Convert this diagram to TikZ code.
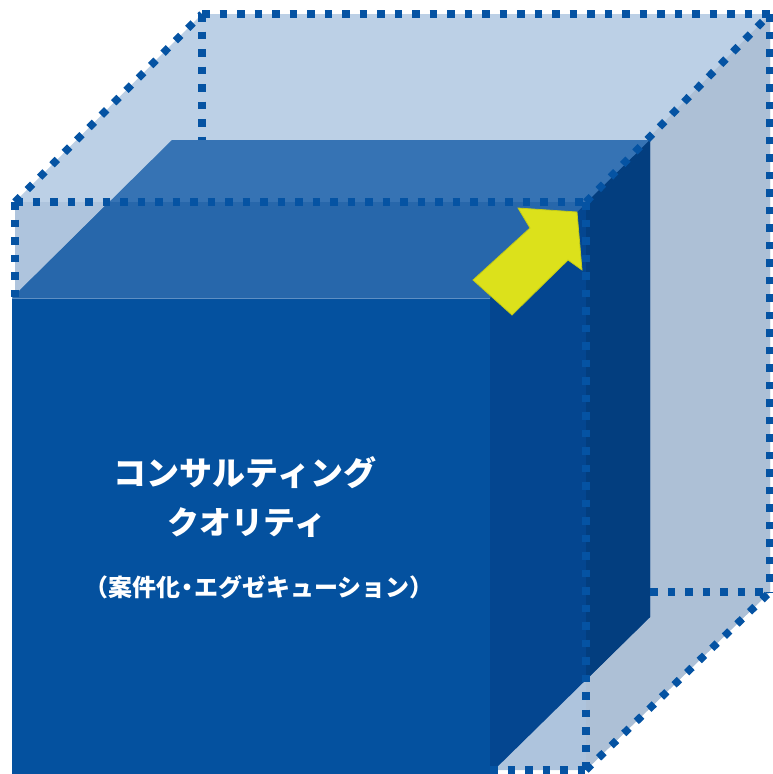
\documentclass[tikz,border=0pt]{standalone}
\usepackage{fontspec}
\newfontfamily\cjk{Noto Sans CJK JP}
\definecolor{backlight}{HTML}{BCD0E6}
\definecolor{frontlight}{HTML}{AEC4DD}
\definecolor{sidelight}{HTML}{ADC0D6}
\definecolor{cubefront}{HTML}{04519F}
\definecolor{cubetop}{HTML}{3673B4}
\definecolor{cubetopin}{HTML}{2767AB}
\definecolor{cubeside}{HTML}{044690}
\definecolor{cubesideout}{HTML}{033E7F}
\definecolor{dotblue}{HTML}{0553A3}
\definecolor{arrowyel}{HTML}{DCE11B}
\definecolor{arrowedge}{HTML}{C3CA18}
\tikzset{
  dotline/.style={draw=dotblue, line width=7.5pt, dash pattern=on 7.5pt off 10pt},
  label/.style={text=white, font=\cjk\bfseries, anchor=base, inner sep=0pt}
}
\begin{document}
\begin{tikzpicture}[x=1pt,y=-1pt]
\useasboundingbox (0,0) rectangle (772,774);
\fill[white] (0,0) rectangle (772,774);
% outer translucent cube
\fill[backlight] (15,202) -- (202,14) -- (770,14) -- (770,592) -- (586,770) -- (15,770) -- cycle;
\fill[sidelight] (586,202) -- (770,14) -- (770,592) -- (586,770) -- cycle;
\fill[frontlight] (15,202) rectangle (586,770);
% solid cube
\fill[cubefront] (12,298) rectangle (490,774);
\fill[cubetop] (12,298) -- (490,298) -- (650,140) -- (172,140) -- cycle;
\fill[cubetopin] (109,202) -- (587,202) -- (490,298) -- (12,298) -- cycle;
\fill[cubeside] (490,298) -- (650,140) -- (650,617) -- (490,774) -- cycle;
\fill[cubesideout] (586,203) -- (650,140) -- (650,617) -- (586,680) -- cycle;
\draw[color=cubetop!80!white, line width=0.8pt] (12,298) -- (490,298);
% dotted edges
\coordinate (b1) at (202,14);
\coordinate (b2) at (770,14);
\coordinate (b3) at (770,592);
\coordinate (f1) at (15,202);
\coordinate (f2) at (586,202);
\coordinate (f3) at (586,770);
\coordinate (bl) at (202,140);
\coordinate (bb) at (650,592);
\coordinate (fl) at (15,298);
\coordinate (fb) at (490,770);
\draw[dotline] (b1) -- (b2);
\draw[dotline] (b2) -- (b3);
\draw[dotline] (bb) -- (b3);
\draw[dotline] (b1) -- (bl);
\draw[dotline] (f1) -- (f2);
\draw[dotline] (f1) -- (fl);
\draw[dotline] (f2) -- (f3);
\draw[dotline] (fb) -- (f3);
\draw[dotline] (f1) -- (b1);
\draw[dotline] (f2) -- (b2);
\draw[dotline] (f3) -- (b3);
% yellow arrow
\fill[arrowyel, draw=arrowedge, line width=0.8pt, line join=miter]
  (473,280) -- (530,228) -- (518,208) -- (577,212) -- (582,270) -- (568,260) -- (512,315) -- cycle;
% text
\node[label, font=\cjk\bfseries\fontsize{33}{33}\selectfont] (t1) at (245,485) {コンサルティング};
\node[label, font=\cjk\bfseries\fontsize{32}{32}\selectfont] (t2) at (247,534) {クオリティ};
\node[label, font=\cjk\bfseries\fontsize{24}{24}\selectfont] (t3) at (259,596) {（案件化\hspace{-5pt}・\hspace{-5pt}エグゼキューション）};
\end{tikzpicture}
\end{document}
